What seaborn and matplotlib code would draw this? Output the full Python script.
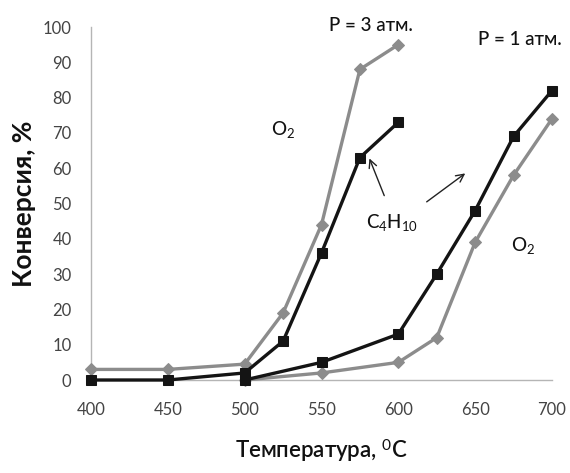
import matplotlib
matplotlib.use("Agg")
import matplotlib.pyplot as plt
import seaborn as sns

# Data
temp_p3 = [400, 450, 500, 525, 550, 575, 600]
o2_p3 = [3, 3, 4.5, 19, 44, 88, 95]
c4h10_p3 = [0, 0, 2, 11, 36, 63, 73]

temp_p1 = [500, 550, 600, 625, 650, 675, 700]
c4h10_p1 = [0, 5, 13, 30, 48, 69, 82]
o2_p1 = [0, 2, 5, 12, 39, 58, 74]

x_ticks = [400, 450, 500, 550, 600, 650, 700]
y_ticks = [0, 10, 20, 30, 40, 50, 60, 70, 80, 90, 100]

sns.set_style("white")
plt.rcParams['font.family'] = ['Lato', 'Open Sans', 'DejaVu Sans']
plt.rcParams['mathtext.fontset'] = 'custom'
plt.rcParams['mathtext.rm'] = 'Lato'
plt.rcParams['mathtext.it'] = 'Lato:italic'
plt.rcParams['mathtext.bf'] = 'Lato:bold'

fig = plt.figure(figsize=(5.7, 4.73), dpi=100)
ax = fig.add_axes([91/570, 1-380/473, 461/570, 353/473])

GRAY = "#8c8c8c"
BLACK = "#141414"

sns.lineplot(x=temp_p3, y=o2_p3, ax=ax, color=GRAY, marker="D", markersize=6.5,
             markeredgecolor=GRAY, linewidth=2.4, clip_on=False, zorder=3)
sns.lineplot(x=temp_p1, y=o2_p1, ax=ax, color=GRAY, marker="D", markersize=6.5,
             markeredgecolor=GRAY, linewidth=2.4, clip_on=False, zorder=3)
sns.lineplot(x=temp_p3, y=c4h10_p3, ax=ax, color=BLACK, marker="s", markersize=7.5,
             markeredgecolor=BLACK, linewidth=2.4, clip_on=False, zorder=4)
sns.lineplot(x=temp_p1, y=c4h10_p1, ax=ax, color=BLACK, marker="s", markersize=7.5,
             markeredgecolor=BLACK, linewidth=2.4, clip_on=False, zorder=4)

ax.set_xlim(400, 700)
ax.set_ylim(0, 100)
ax.set_xticks(x_ticks)
ax.set_yticks(y_ticks)
ax.set_xticklabels([str(v) for v in x_ticks])
ax.set_yticklabels([str(v) for v in y_ticks])

for s in ["top", "right"]:
    ax.spines[s].set_visible(False)
for s in ["left", "bottom"]:
    ax.spines[s].set_color("#b5b5b5")
    ax.spines[s].set_linewidth(1.0)
ax.tick_params(axis="both", which="both", direction="out", length=4, width=1,
               color="#b5b5b5", labelsize=12, labelcolor="#444444")
ax.tick_params(axis="y", pad=10)
ax.tick_params(axis="x", pad=12)

ax.set_ylabel("Конверсия, %", fontsize=19, fontweight="bold", color="#111111", labelpad=5)
ax.set_xlabel("Температура, $^{0}$C", fontsize=16, fontweight="semibold",
              color="#111111", labelpad=14)

txt = dict(color="#111111", fontsize=13.5, ha="center", va="center", fontweight="medium")
ax.text(582, 100.5, "P = 3 атм.", clip_on=False, **txt)
ax.text(679, 96.5, "P = 1 атм.", clip_on=False, **txt)
ax.text(525, 71, "O$_2$", **txt)
ax.text(681, 38, "O$_2$", **txt)
ax.text(596, 44.5, "C$_4$H$_{10}$", **txt)

arrow = dict(arrowstyle="->", color="#222222", lw=1.0, mutation_scale=14)
ax.annotate("", xy=(580.5, 63.5), xytext=(591.5, 51.5), arrowprops=arrow)
ax.annotate("", xy=(645, 59), xytext=(617, 50), arrowprops=arrow)

fig.savefig("out.png", dpi=100, facecolor="white")
